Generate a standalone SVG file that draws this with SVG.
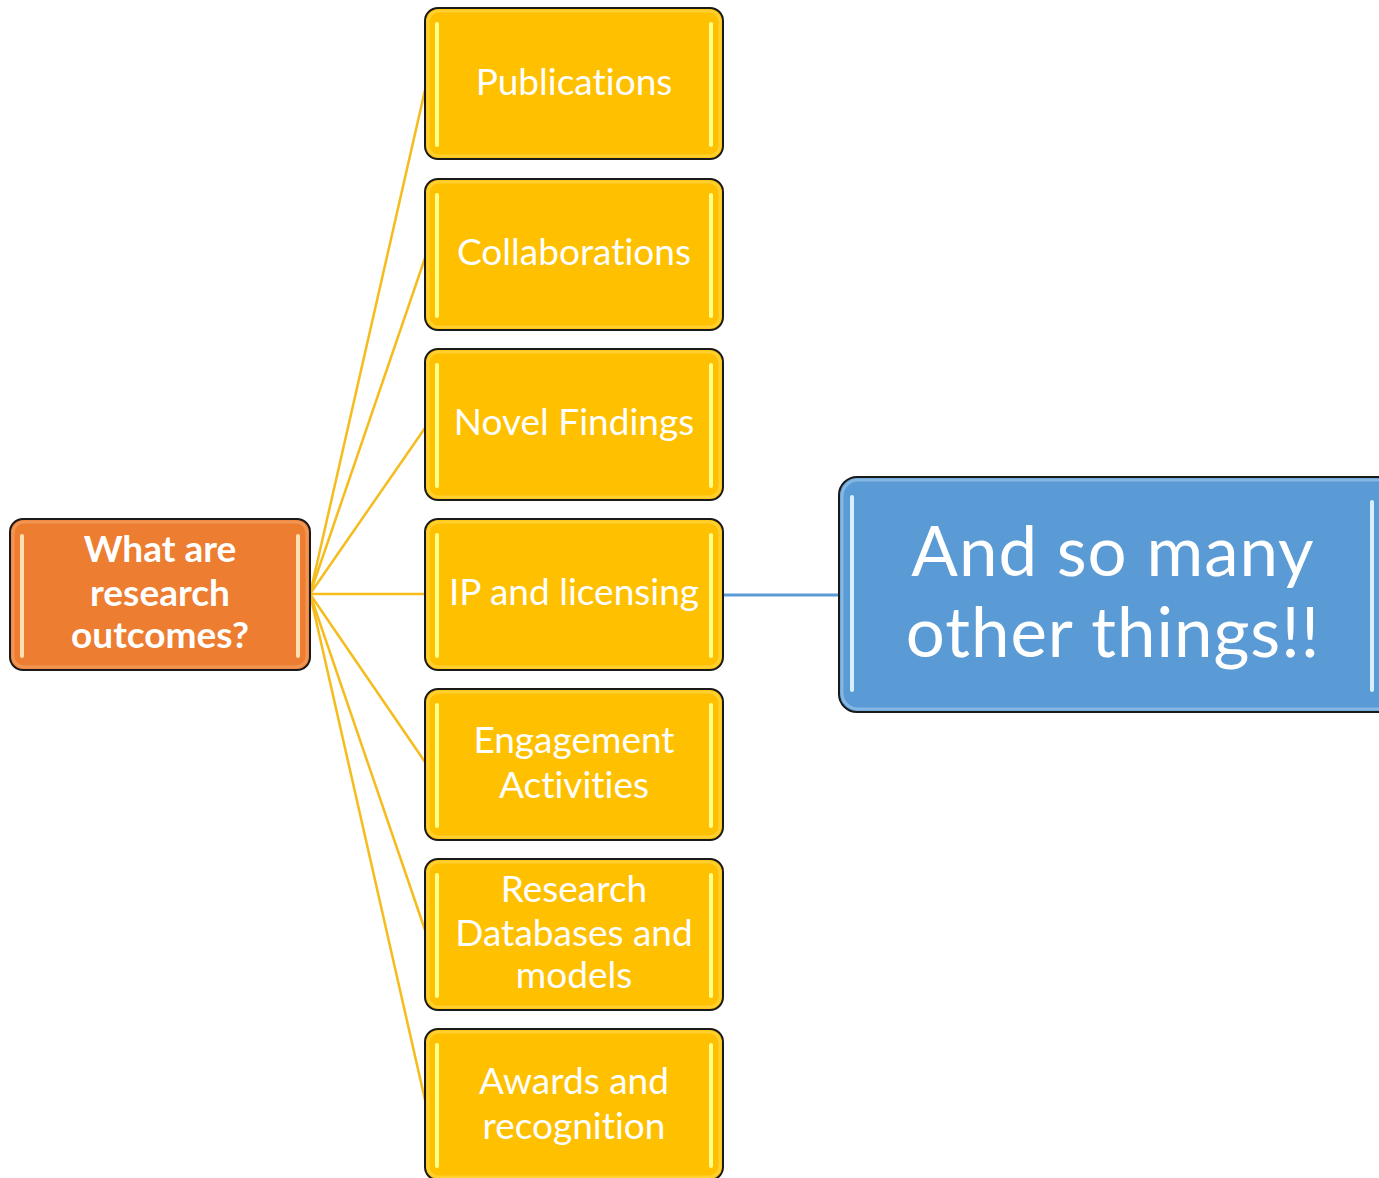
<svg xmlns="http://www.w3.org/2000/svg" width="1379" height="1178" viewBox="0 0 1379 1178">
<style>
.box{stroke:#1a1a1a;stroke-width:2}
.y{fill:#FFC000}
.o{fill:#ED7D31}
.b{fill:#5B9BD5}
.hy{stroke:#FFFF8C;stroke-width:4;stroke-linecap:round}
.ho{stroke:#FFE0B0;stroke-width:4;stroke-linecap:round}
.hb{stroke:#D6F0FF;stroke-width:4;stroke-linecap:round}
.inner{fill:none;stroke-width:3;opacity:0.55}
.t{font-family:Lato,"Open Sans",sans-serif;fill:#fff;text-anchor:middle;font-variant-ligatures:none}
.ty{font-size:37px}
.to{font-size:37px;font-weight:bold}
.tb{font-size:69px;letter-spacing:1px}
.c{stroke:#F5BC1C;stroke-width:2.5;fill:none}
</style>
<rect width="1379" height="1178" fill="#fff"/>
<g id="connectors">
<line class="c" x1="310" y1="594" x2="425" y2="90"/>
<line class="c" x1="310" y1="594" x2="425" y2="258"/>
<line class="c" x1="310" y1="594" x2="425" y2="428"/>
<line class="c" x1="310" y1="594" x2="425" y2="594"/>
<line class="c" x1="310" y1="594" x2="425" y2="762"/>
<line class="c" x1="310" y1="594" x2="425" y2="930"/>
<line class="c" x1="310" y1="594" x2="425" y2="1100"/>
<line x1="723" y1="595" x2="839" y2="595" stroke="#5B9BD5" stroke-width="3"/>
</g>
<g id="root">
<rect class="box o" x="10" y="519" width="300" height="151" rx="13"/>
<rect class="inner" x="13" y="522" width="294" height="145" rx="11" stroke="#F6A96E"/>
<line class="ho" x1="22" y1="536" x2="22" y2="656"/>
<line class="ho" x1="298" y1="536" x2="298" y2="656"/>
<text class="t to" x="160" y="562">What are</text>
<text class="t to" x="160" y="606">research</text>
<text class="t to" x="160" y="648">outcomes?</text>
</g>
<g id="n1">
<rect class="box y" x="425" y="8" width="298" height="151" rx="13"/>
<rect class="inner" x="428" y="11" width="292" height="145" rx="11" stroke="#FFDD55"/>
<line class="hy" x1="437" y1="24" x2="437" y2="145"/>
<line class="hy" x1="711" y1="24" x2="711" y2="145"/>
<text class="t ty" x="574" y="95">Publications</text>
</g>
<g id="n2">
<rect class="box y" x="425" y="179" width="298" height="151" rx="13"/>
<rect class="inner" x="428" y="182" width="292" height="145" rx="11" stroke="#FFDD55"/>
<line class="hy" x1="437" y1="195" x2="437" y2="316"/>
<line class="hy" x1="711" y1="195" x2="711" y2="316"/>
<text class="t ty" x="574" y="265">Collaborations</text>
</g>
<g id="n3">
<rect class="box y" x="425" y="349" width="298" height="151" rx="13"/>
<rect class="inner" x="428" y="352" width="292" height="145" rx="11" stroke="#FFDD55"/>
<line class="hy" x1="437" y1="365" x2="437" y2="486"/>
<line class="hy" x1="711" y1="365" x2="711" y2="486"/>
<text class="t ty" x="574" y="435">Novel Findings</text>
</g>
<g id="n4">
<rect class="box y" x="425" y="519" width="298" height="151" rx="13"/>
<rect class="inner" x="428" y="522" width="292" height="145" rx="11" stroke="#FFDD55"/>
<line class="hy" x1="437" y1="535" x2="437" y2="656"/>
<line class="hy" x1="711" y1="535" x2="711" y2="656"/>
<text class="t ty" x="574" y="605">IP and licensing</text>
</g>
<g id="n5">
<rect class="box y" x="425" y="689" width="298" height="151" rx="13"/>
<rect class="inner" x="428" y="692" width="292" height="145" rx="11" stroke="#FFDD55"/>
<line class="hy" x1="437" y1="705" x2="437" y2="826"/>
<line class="hy" x1="711" y1="705" x2="711" y2="826"/>
<text class="t ty" x="574" y="753">Engagement</text>
<text class="t ty" x="574" y="798">Activities</text>
</g>
<g id="n6">
<rect class="box y" x="425" y="859" width="298" height="151" rx="13"/>
<rect class="inner" x="428" y="862" width="292" height="145" rx="11" stroke="#FFDD55"/>
<line class="hy" x1="437" y1="875" x2="437" y2="996"/>
<line class="hy" x1="711" y1="875" x2="711" y2="996"/>
<text class="t ty" x="574" y="902">Research</text>
<text class="t ty" x="574" y="946">Databases and</text>
<text class="t ty" x="574" y="988">models</text>
</g>
<g id="n7">
<rect class="box y" x="425" y="1029" width="298" height="151" rx="13"/>
<rect class="inner" x="428" y="1032" width="292" height="145" rx="11" stroke="#FFDD55"/>
<line class="hy" x1="437" y1="1045" x2="437" y2="1166"/>
<line class="hy" x1="711" y1="1045" x2="711" y2="1166"/>
<text class="t ty" x="574" y="1094">Awards and</text>
<text class="t ty" x="574" y="1139">recognition</text>
</g>
<g id="other">
<rect class="box b" x="839" y="477" width="560" height="235" rx="18"/>
<rect class="inner" x="842" y="480" width="554" height="229" rx="16" stroke="#A9CDEE"/>
<line class="hb" x1="852" y1="497" x2="852" y2="690"/>
<line class="hb" x1="1372" y1="502" x2="1372" y2="690"/>
<text class="t tb" x="1113" y="576">And so many</text>
<text class="t tb" x="1113" y="657">other things!!</text>
</g>
</svg>
